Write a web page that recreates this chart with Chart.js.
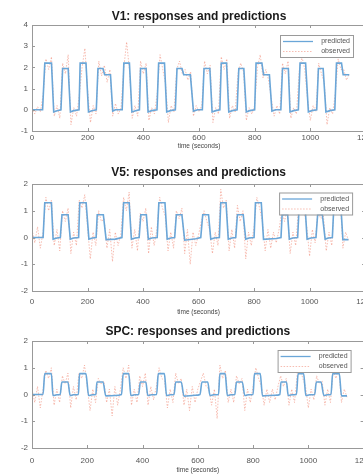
<!DOCTYPE html>
<html>
<head>
<meta charset="utf-8">
<script src="https://cdn.jsdelivr.net/npm/chart.js@4.4.1/dist/chart.umd.min.js"></script>
<style>
  html, body { margin: 0; padding: 0; background: #fff; overflow: hidden; width: 363px; height: 475px; }
  .panel { position: absolute; left: 0; width: 380px; }
</style>
</head>
<body>
<div class="panel" id="p1" style="top:0px;height:151px"><canvas id="c1"></canvas></div>
<div class="panel" id="p2" style="top:155px;height:161px"><canvas id="c2"></canvas></div>
<div class="panel" id="p3" style="top:316px;height:158px"><canvas id="c3"></canvas></div>
<script>
// x ticks (seconds)
var xTicks = [0, 200, 400, 600, 800, 1000, 1200];

// observed samples, every 10 s
var obsTime = [0,10,20,30,40,50,60,70,80,90,
  100,110,120,130,140,150,160,170,180,190,
  200,210,220,230,240,250,260,270,280,290,
  300,310,320,330,340,350,360,370,380,390,
  400,410,420,430,440,450,460,470,480,490,
  500,510,520,530,540,550,560,570,580,590,
  600,610,620,630,640,650,660,670,680,690,
  700,710,720,730,740,750,760,770,780,790,
  800,810,820,830,840,850,860,870,880,890,
  900,910,920,930,940,950,960,970,980,990,
  1000,1010,1020,1030,1040,1050,1060,1070,1080,1090,
  1100,1110,1120,1130,1140];

var obsV1 = [0.1,-0.2,0.15,-0.1,0.7,2.4,1.9,2.5,-0.3,0.2,
  -0.4,2.2,1.7,2.6,-0.7,0.1,-0.3,0.7,2.0,2.9,
  0.9,-0.6,0.2,-0.2,2.3,1.6,2.1,1.3,1.9,-0.3,
  0.3,-0.2,0.1,2.0,3.2,1.9,-0.4,0.2,-0.3,2.3,
  1.7,2.2,-0.5,0.1,-0.2,0.8,2.6,1.9,1.2,-0.6,
  0.2,-0.1,1.9,2.3,1.7,1.9,1.4,1.8,-0.3,0.2,
  -0.1,0.2,2.3,1.7,2.1,-0.6,0.1,-0.2,2.5,1.9,
  2.4,-0.4,0.2,-0.1,1.7,2.2,1.8,-0.5,0.1,-0.2,
  0.2,2.0,2.6,1.5,1.9,1.4,0.5,-0.3,0.2,-0.2,
  2.2,1.7,2.3,-0.4,0.1,-0.2,1.8,2.5,1.9,0.5,
  -0.5,0.2,-0.1,2.2,1.7,1.3,-0.7,0.1,-0.2,0.8,
  2.4,1.9,1.9,1.4,1.7];

var obsV5 = [0.3,-0.2,0.4,-0.4,0.2,1.5,1.0,1.4,-0.3,0.3,
  -0.5,1.0,0.6,1.1,-0.6,0.2,-0.3,1.4,1.1,1.6,
  0.4,-0.8,0.2,-0.3,1.0,0.6,0.7,-0.4,0.3,-0.9,
  0.2,-0.3,0.1,1.5,1.0,1.7,-0.4,0.3,-0.5,0.9,
  0.6,1.1,-0.6,0.4,-0.3,0.3,1.5,1.1,0.8,-0.5,
  0.2,-0.4,1.0,0.7,1.1,-0.6,0.3,-1.0,0.2,-0.3,
  0.1,0.6,1.0,0.6,0.3,-0.6,0.2,-0.3,1.8,1.1,
  1.4,-0.5,0.3,-0.4,1.2,0.6,1.0,-0.8,0.2,-0.3,
  0.4,1.5,1.1,0.6,-0.5,0.3,-0.4,0.2,-0.2,0.3,
  1.0,0.6,1.1,-0.6,0.2,-0.3,1.1,1.5,1.0,0.4,
  -0.7,0.3,-0.2,1.0,0.7,0.8,-0.5,0.2,-0.3,1.4,
  1.0,1.5,-0.4,0.2,-0.1];

var obsSPC = [0.2,-0.3,0.3,-0.5,0.2,0.9,0.6,1.0,-0.4,0.2,
  -0.3,0.7,0.4,0.8,-0.5,0.3,-0.2,0.8,0.6,1.1,
  0.3,-0.6,0.2,-0.3,0.6,0.4,0.5,-0.3,0.2,-0.8,
  0.3,-0.4,0.2,1.0,0.6,1.1,-0.4,0.2,-0.3,0.7,
  0.3,0.8,-0.4,0.3,-0.2,0.3,1.0,0.6,0.5,-0.5,
  0.2,-0.3,0.8,0.4,0.6,-0.4,0.2,-0.6,0.3,-0.3,
  0.2,0.5,0.8,0.3,0.2,-0.4,0.2,-0.9,1.1,0.6,
  0.9,-0.3,0.2,-0.3,0.7,0.4,0.6,-0.6,0.2,-0.3,
  0.3,1.0,0.6,0.3,-0.4,0.2,-0.3,0.2,-0.2,0.3,
  0.7,0.3,0.6,-0.4,0.2,-0.3,0.8,1.0,0.6,0.3,
  -0.5,0.2,-0.2,0.7,0.4,0.5,-0.4,0.2,-0.3,0.9,
  0.6,1.0,-0.3,0.2,-0.1];

// predicted V1 (corner points)
var predTime1 = [0,
  38,46,70,78,90,
  104,110,130,138,150,
  169,173,194,203,215,
  231,237,255,261,282,290,300,
  324,330,350,359,372,
  386,390,410,417,430,
  449,455,476,484,497,
  515,521,539,545,569,580,595,
  612,618,639,647,660,
  675,680,699,707,720,
  737,743,761,770,782,
  800,805,826,832,853,862,875,
  894,900,921,927,940,
  957,963,983,993,1005,
  1023,1029,1046,1056,1070,
  1088,1094,1112,1118,1140];
var predV1 = [0,
  0,2.2,2.2,-0.1,-0.04,
  0,1.95,1.95,-0.1,-0.04,
  0,2.2,2.2,-0.1,-0.04,
  0,1.95,1.95,1.65,1.65,-0.06,0,
  0,2.2,2.2,-0.1,-0.04,
  0,1.95,1.95,-0.1,-0.04,
  0,2.2,2.2,-0.1,-0.04,
  0,1.95,1.95,1.65,1.65,-0.06,0,
  0,1.95,1.95,-0.1,-0.04,
  0,2.2,2.2,-0.1,-0.04,
  0,1.95,1.95,-0.1,-0.04,
  0,2.2,2.2,1.65,1.65,-0.06,0,
  0,1.95,1.95,-0.1,-0.04,
  0,2.2,2.2,-0.1,-0.04,
  0,1.95,1.95,-0.1,-0.04,
  0,2.2,2.2,1.65,1.65];

// predicted V5 / SPC (corner points)
var predTime23 = [0,
  40,46,70,76,90,
  102,108,130,138,150,
  168,172,195,205,218,
  231,235,257,267,300,
  324,330,350,358,372,
  386,392,412,419,432,
  451,457,479,487,500,
  514,520,540,550,590,
  608,615,636,644,657,
  675,680,699,707,720,
  734,740,761,770,782,
  800,805,826,834,880,
  897,901,921,927,940,
  957,963,983,991,1005,
  1023,1029,1046,1056,1068,
  1082,1088,1112,1120,1140];
var predV5 = [0,
  0,1.3,1.3,-0.06,-0.02,
  0,0.85,0.85,-0.06,-0.02,
  0,1.3,1.3,-0.06,-0.02,
  0,0.85,0.85,-0.08,-0.06,
  0,1.3,1.3,-0.06,-0.02,
  0,0.85,0.85,-0.06,-0.02,
  0,1.3,1.3,-0.06,-0.02,
  0,0.85,0.85,-0.1,-0.05,
  0,0.85,0.85,-0.06,-0.02,
  0,1.3,1.3,-0.06,-0.02,
  0,0.85,0.85,-0.06,-0.02,
  0,1.3,1.3,-0.07,-0.04,
  0,0.85,0.85,-0.06,-0.02,
  0,1.3,1.3,-0.06,-0.02,
  0,0.85,0.85,-0.06,-0.02,
  0,1.3,1.3,-0.08,-0.08];
var predSPC = [0,
  0,0.78,0.78,-0.04,-0.01,
  0,0.47,0.47,-0.04,-0.01,
  0,0.78,0.78,-0.04,-0.01,
  0,0.47,0.47,-0.05,-0.04,
  0,0.78,0.78,-0.04,-0.01,
  0,0.47,0.47,-0.04,-0.01,
  0,0.78,0.78,-0.04,-0.01,
  0,0.47,0.47,-0.06,-0.03,
  0,0.47,0.47,-0.04,-0.01,
  0,0.78,0.78,-0.04,-0.01,
  0,0.47,0.47,-0.04,-0.01,
  0,0.78,0.78,-0.05,-0.03,
  0,0.47,0.47,-0.04,-0.01,
  0,0.78,0.78,-0.04,-0.01,
  0,0.47,0.47,-0.04,-0.01,
  0,0.78,0.78,-0.05,-0.05];

var FONT = "'Liberation Sans', Arial, sans-serif";
var BLUE = '#6aa6d8';
var RED = 'rgba(240,135,115,0.55)';

function pts(xs, ys) {
  var out = [];
  for (var i = 0; i < xs.length; i++) out.push({x: xs[i], y: ys[i]});
  return out;
}

// frame, inward ticks, title and boxed legend like matlab
var matlabAxes = {
  id: 'matlabAxes',
  afterDraw: function(chart, args, opts) {
    var ctx = chart.ctx, a = chart.chartArea;
    var xs = chart.scales.x, ys = chart.scales.y;
    ctx.save();
    ctx.strokeStyle = '#999';
    ctx.lineWidth = 1;
    ctx.strokeRect(a.left + 0.5, a.top + 0.5, a.right - a.left, a.bottom - a.top);
    ctx.beginPath();
    xs.ticks.forEach(function(t) {
      var px = Math.round(xs.getPixelForValue(t.value)) + 0.5;
      ctx.moveTo(px, a.bottom); ctx.lineTo(px, a.bottom - 3);
      ctx.moveTo(px, a.top); ctx.lineTo(px, a.top + 3);
    });
    ys.ticks.forEach(function(t) {
      var py = Math.round(ys.getPixelForValue(t.value)) + 0.5;
      ctx.moveTo(a.left, py); ctx.lineTo(a.left + 3, py);
      ctx.moveTo(a.right, py); ctx.lineTo(a.right - 3, py);
    });
    ctx.stroke();

    // title
    ctx.fillStyle = '#1a1a1a';
    ctx.font = 'bold 12px ' + FONT;
    ctx.textAlign = 'center';
    ctx.textBaseline = 'middle';
    ctx.fillText(opts.title, (a.left + a.right) / 2, a.top - opts.titleGap);

    // legend
    var bx = a.right - 86, by = a.top + opts.legendTop, bw = 73, bh = 22;
    ctx.fillStyle = '#fff';
    ctx.fillRect(bx, by, bw, bh);
    ctx.strokeStyle = '#9a9a9a';
    ctx.strokeRect(bx + 0.5, by + 0.5, bw, bh);
    ctx.lineWidth = 1.3;
    ctx.strokeStyle = BLUE;
    ctx.beginPath(); ctx.moveTo(bx + 3, by + 6.5); ctx.lineTo(bx + 33, by + 6.5); ctx.stroke();
    ctx.lineWidth = 1;
    ctx.strokeStyle = RED;
    ctx.setLineDash([1.5, 1.5]);
    ctx.beginPath(); ctx.moveTo(bx + 3, by + 16.5); ctx.lineTo(bx + 33, by + 16.5); ctx.stroke();
    ctx.setLineDash([]);
    ctx.fillStyle = '#555';
    ctx.font = '7px ' + FONT;
    ctx.textAlign = 'right';
    ctx.fillText('predicted', bx + bw - 3, by + 6.5);
    ctx.fillText('observed', bx + bw - 3, by + 16.5);
    ctx.restore();
  }
};

function makeChart(canvasId, title, predT, predV, obsV, yMin, yMax, lay) {
  return new Chart(document.getElementById(canvasId), {
    type: 'line',
    data: {
      datasets: [
        {
          label: 'predicted',
          data: pts(predT, predV),
          borderColor: BLUE,
          borderWidth: 1.6,
          pointRadius: 0,
          cubicInterpolationMode: lay.smooth ? 'monotone' : 'default',
          tension: 0,
          order: 1
        },
        {
          label: 'observed',
          data: pts(obsTime, obsV),
          borderColor: RED,
          borderWidth: 1,
          borderDash: [1.5, 1.5],
          pointRadius: 0,
          tension: 0,
          order: 2
        }
      ]
    },
    options: {
      responsive: true,
      maintainAspectRatio: false,
      animation: false,
      layout: { padding: { left: 0, right: 14, top: lay.padTop, bottom: 0 } },
      plugins: {
        legend: { display: false },
        tooltip: { enabled: false },
        matlabAxes: { title: title, titleGap: lay.titleGap, legendTop: lay.legendTop }
      },
      scales: {
        x: {
          type: 'linear',
          min: xTicks[0],
          max: xTicks[xTicks.length - 1],
          afterBuildTicks: function(s) { s.ticks = xTicks.map(function(v) { return {value: v}; }); },
          afterFit: function(s) { s.height = lay.xAxisH; },
          grid: { display: false, drawTicks: false },
          border: { display: false },
          ticks: { padding: lay.tickPad, color: '#555', font: { family: FONT, size: 8 }, maxRotation: 0, autoSkip: false,
                   callback: function(v) { return String(v); } },
          title: { display: true, text: 'time (seconds)', color: '#444', font: { family: FONT, size: 6.5 }, padding: { top: 0, bottom: lay.xTitlePad } }
        },
        y: {
          min: yMin,
          max: yMax,
          afterFit: function(s) { s.width = 32; },
          grid: { display: false, drawTicks: false },
          border: { display: false },
          ticks: { stepSize: 1, padding: 4, color: '#555', font: { family: FONT, size: 8 },
                   callback: function(v) { return String(v); } }
        }
      }
    },
    plugins: [matlabAxes]
  });
}

makeChart('c1', 'V1: responses and predictions', predTime1, predV1, obsV1, -1, 4,
  { padTop: 25, titleGap: 8, legendTop: 10, xAxisH: 20, tickPad: 1.6, xTitlePad: 1, smooth: false });
makeChart('c2', 'V5: responses and predictions', predTime23, predV5, obsV5, -2, 2,
  { padTop: 29, titleGap: 11, legendTop: 8.5, xAxisH: 25, tickPad: 6, xTitlePad: 0, smooth: false });
makeChart('c3', 'SPC: responses and predictions', predTime23, predSPC, obsSPC, -2, 2,
  { padTop: 25, titleGap: 9, legendTop: 9, xAxisH: 26, tickPad: 7.5, xTitlePad: 0, smooth: true });
</script>
</body>
</html>
